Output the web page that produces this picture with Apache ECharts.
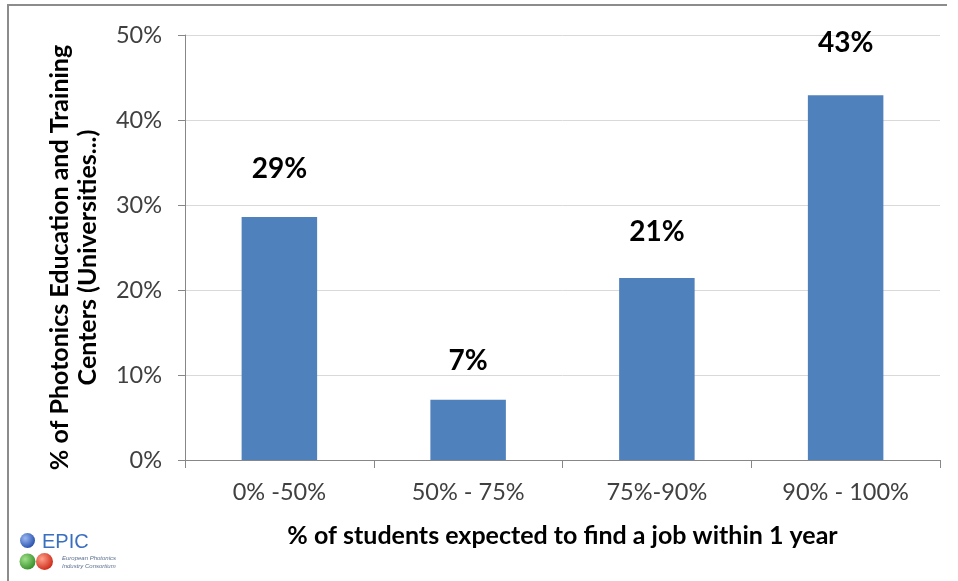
<!DOCTYPE html>
<html>
<head>
<meta charset="utf-8">
<script src="https://cdn.jsdelivr.net/npm/echarts@6/dist/echarts.min.js"></script>
<style>
  html, body { margin: 0; padding: 0; background: #fff; }
  #chart { width: 958px; height: 581px; }
</style>
</head>
<body>
<div id="chart"></div>
<script>
// Employment outlook of students per share of photonics training centres
const categories = ['0% -50%', '50% - 75%', '75%-90%', '90% - 100%'];
const shares = [28.6, 7.1, 21.4, 42.9];
const yTicks = [0, 10, 20, 30, 40, 50];

const xTitle = '% of students expected to find a job within 1 year';
const yTitle = '% of Photonics Education and Training\nCenters (Universities...)';

const FONT = 'Lato, "Open Sans", sans-serif';
const labelGaps = [34, 25, 32, 38];

const chart = echarts.init(document.getElementById('chart'), null, { renderer: 'canvas' });

chart.setOption({
  animation: false,
  backgroundColor: '#ffffff',
  grid: { left: 185, right: 18, top: 35, bottom: 121, containLabel: false },
  xAxis: {
    type: 'category',
    data: categories,
    axisLine: { show: true, lineStyle: { color: '#878787', width: 1 } },
    axisTick: { show: true, length: 8, alignWithLabel: false, lineStyle: { color: '#878787' } },
    axisLabel: { color: '#404040', fontFamily: FONT, fontSize: 23.5, margin: 20 },
    name: xTitle,
    nameLocation: 'middle',
    nameGap: 63,
    nameTextStyle: { color: '#000', fontFamily: FONT, fontSize: 25, fontWeight: 'bold' }
  },
  yAxis: {
    type: 'value',
    min: yTicks[0],
    max: yTicks[yTicks.length - 1],
    interval: 10,
    axisLine: { show: true, lineStyle: { color: '#878787', width: 1 } },
    axisTick: { show: true, length: 7, lineStyle: { color: '#878787' } },
    splitLine: { show: true, lineStyle: { color: '#d9d9d9', width: 1 } },
    axisLabel: { color: '#404040', fontFamily: FONT, fontSize: 23.5, margin: 23, formatter: v => v + '%' },
    name: yTitle,
    nameLocation: 'middle',
    nameRotate: 90,
    nameGap: 83,
    nameTextStyle: { color: '#000', fontFamily: FONT, fontSize: 25, fontWeight: 'bold', lineHeight: 28, align: 'center', padding: [0, 20, 0, 0] }
  },
  series: [{
    type: 'bar',
    barWidth: '40%',
    itemStyle: { color: '#4f81bd' },
    data: shares.map((v, i) => ({
      value: v,
      label: {
        show: true,
        position: 'top',
        distance: labelGaps[i],
        formatter: p => Math.round(p.value) + '%',
        color: '#000',
        fontFamily: FONT,
        fontSize: 28,
        fontWeight: 'bold'
      }
    }))
  }],
  graphic: [
    // frame (left and top edges)
    { type: 'polyline', shape: { points: [[8, 581], [8, 5], [947, 5]] }, style: { stroke: '#8c8c8c', lineWidth: 2, fill: null } },
    // EPIC logo
    {
      type: 'circle', shape: { cx: 27.5, cy: 540.5, r: 7.5 },
      style: { fill: new echarts.graphic.RadialGradient(0.35, 0.35, 0.75, [{ offset: 0, color: '#9ab8f0' }, { offset: 1, color: '#1f48a8' }]) }
    },
    {
      type: 'circle', shape: { cx: 27.5, cy: 561.5, r: 8 },
      style: { fill: new echarts.graphic.RadialGradient(0.35, 0.35, 0.75, [{ offset: 0, color: '#9fe08a' }, { offset: 1, color: '#2f8a22' }]) }
    },
    {
      type: 'circle', shape: { cx: 44.5, cy: 561.5, r: 8.5 },
      style: { fill: new echarts.graphic.RadialGradient(0.35, 0.35, 0.75, [{ offset: 0, color: '#ffa08a' }, { offset: 1, color: '#c8200e' }]) }
    },
    {
      type: 'text', left: 42, top: 532,
      style: { text: 'EPIC', fill: '#3a6fc0', font: '20px "Liberation Sans", Arial, sans-serif' }
    },
    {
      type: 'text', left: 62, top: 554,
      style: { text: 'European Photonics\nIndustry Consortium', fill: '#5a6f8f', font: 'italic 6px "Liberation Sans", Arial, sans-serif', lineHeight: 8 }
    }
  ]
});
</script>
</body>
</html>
